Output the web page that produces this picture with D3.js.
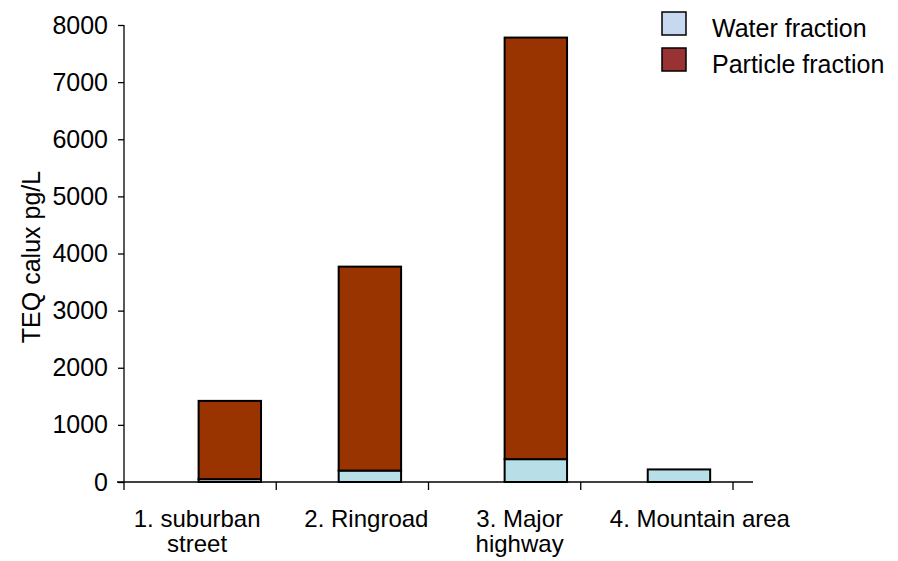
<!DOCTYPE html>
<html>
<head>
<meta charset="utf-8">
<script src="https://cdn.jsdelivr.net/npm/d3@7"></script>
<style>
  body { margin: 0; background: #fff; }
  svg { display: block; }
</style>
</head>
<body>
<svg id="chart"></svg>
<script>
// values
const sites = ["1. suburban street", "2. Ringroad", "3. Major highway", "4. Mountain area"];
const siteLines = [["1. suburban", "street"], ["2. Ringroad"], ["3. Major", "highway"], ["4. Mountain area"]];
const waterFraction = [50, 200, 400, 220];
const particleFraction = [1370, 3570, 7380, 0];
const yTicks = [0, 1000, 2000, 3000, 4000, 5000, 6000, 7000, 8000];
const seriesNames = ["Water fraction", "Particle fraction"];

const svgWidth = 898;
const svgHeight = 561;
const margin = { top: 25, right: 165, bottom: 79, left: 124 };
const width = svgWidth - margin.left - margin.right;
const height = svgHeight - margin.top - margin.bottom;

const svg = d3.select("#chart")
    .attr("width", svgWidth)
    .attr("height", svgHeight)
    .style("font-family", "'Liberation Sans', Arial, sans-serif");

const g = svg.append("g").attr("transform", `translate(${margin.left},${margin.top})`);

const xScale = d3.scaleBand().domain(sites).range([0, 609]);
const yScale = d3.scaleLinear().domain([0, 8000]).range([height, 0]);

const data = sites.map((s, i) => ({ site: s, water: waterFraction[i], particle: particleFraction[i] }));
const stack = d3.stack().keys(["water", "particle"]);
const layers = stack(data);

const fills = { water: "#b8dee8", particle: "#993300" };
const legendFills = ["#c6d9f1", "#993333"];

const bw = xScale.bandwidth();
const barOffset = [0.49, 0.41, 0.5, 0.44];

layers.forEach(layer => {
    g.selectAll(".bar-" + layer.key)
        .data(layer.filter(d => d[1] - d[0] > 0))
        .enter().append("rect")
        .attr("x", d => xScale(d.data.site) + bw * barOffset[sites.indexOf(d.data.site)])
        .attr("width", bw * 0.41)
        .attr("y", d => yScale(d[1]))
        .attr("height", d => yScale(d[0]) - yScale(d[1]))
        .attr("fill", fills[layer.key])
        .attr("stroke", "#000")
        .attr("stroke-width", 2);
});

// y axis
const yAxis = g.append("g")
    .call(d3.axisLeft(yScale).tickValues(yTicks).tickSize(6).tickPadding(10).tickFormat(d3.format("d")));
yAxis.select(".domain").attr("d", `M0,${yScale(8000)}V${yScale(0)}`).attr("stroke-width", 1.3);
yAxis.selectAll(".tick line").attr("stroke-width", 1.3);
yAxis.selectAll("text").style("font-size", "25px").attr("fill", "#000");

// x axis
const xAxis = g.append("g").attr("transform", `translate(0,${height})`);
xAxis.append("line")
    .attr("x1", -7).attr("x2", 629)
    .attr("stroke", "#000").attr("stroke-width", 1.3);
const edges = sites.map(s => xScale(s)).concat([xScale.range()[1]]);
xAxis.selectAll(".xtick")
    .data(edges)
    .enter().append("line")
    .attr("x1", d => d).attr("x2", d => d)
    .attr("y1", 0).attr("y2", 8)
    .attr("stroke", "#000").attr("stroke-width", 1.3);

const labelShift = [-3, 14, 15, 43];
const xLabels = xAxis.selectAll(".xlabel")
    .data(siteLines)
    .enter().append("text")
    .attr("text-anchor", "middle")
    .style("font-size", "24px")
    .attr("transform", (d, i) => `translate(${xScale(sites[i]) + bw / 2 + labelShift[i]},45)`);
xLabels.selectAll("tspan")
    .data(d => d)
    .enter().append("tspan")
    .attr("x", 0)
    .attr("dy", (d, i) => i === 0 ? 0 : 25)
    .text(d => d);

// y axis title
svg.append("text")
    .attr("transform", `translate(40,${margin.top + 232}) rotate(-90)`)
    .attr("text-anchor", "middle")
    .style("font-size", "25px")
    .text("TEQ calux pg/L");

// legend
const legend = svg.selectAll(".legend")
    .data(seriesNames)
    .enter().append("g")
    .attr("class", "legend")
    .attr("transform", (d, i) => `translate(662,${12 + i * 36})`);

legend.append("rect")
    .attr("width", 24)
    .attr("height", 23)
    .attr("fill", (d, i) => legendFills[i])
    .attr("stroke", "#000")
    .attr("stroke-width", 1.5);

legend.append("text")
    .attr("x", 50)
    .attr("y", 25)
    .style("font-size", "25px")
    .text(d => d);
</script>
</body>
</html>
